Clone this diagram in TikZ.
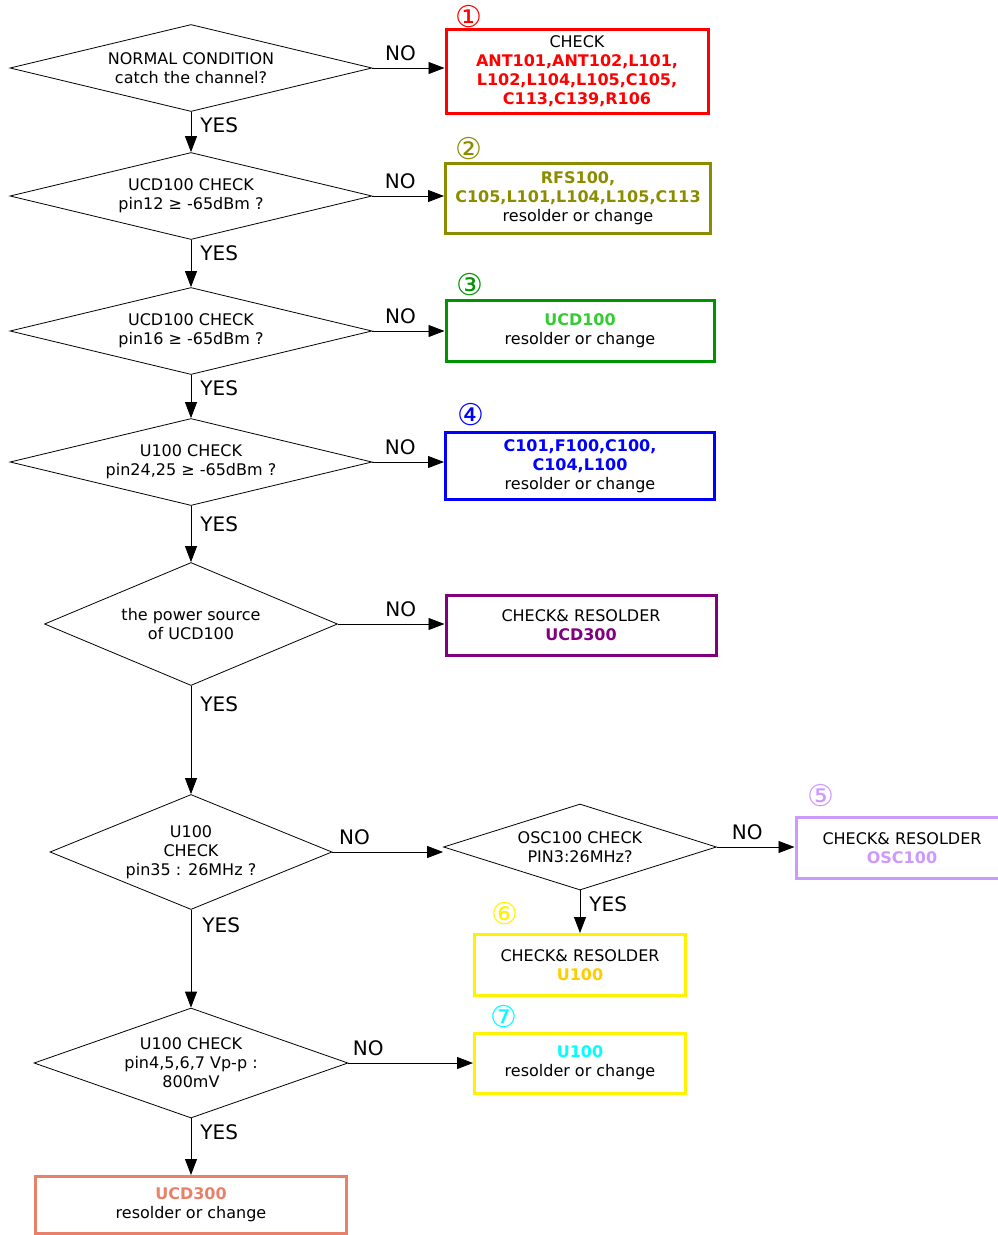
\documentclass[tikz,border=0pt]{standalone}
\usepackage{fontspec}
\setmainfont{DejaVu Sans}
\usepackage{xcolor}
\usetikzlibrary{arrows.meta, positioning, shapes.geometric}

\definecolor{olivepart}{HTML}{8C8C00}
\definecolor{greenbox}{HTML}{009400}
\definecolor{greenpart}{HTML}{33CC33}
\definecolor{purplepart}{HTML}{800080}
\definecolor{lavender}{HTML}{CC99FF}
\definecolor{goldpart}{HTML}{FFCC00}
\definecolor{cyanpart}{HTML}{00FFFF}
\definecolor{salmon}{HTML}{E9806A}

\newcommand{\partlist}[2]{\textcolor{#1}{\bfseries #2}}

\begin{document}
\begin{tikzpicture}[x=1pt, y=-1pt, >={Triangle[length=16pt, width=12pt]},
    decision/.style={diamond, draw, line width=0.8pt, inner sep=0pt, align=center,
        font=\fontsize{16}{19}\selectfont},
    result/.style={rectangle, draw, line width=3pt, align=center,
        font=\fontsize{16}{19}\selectfont},
    branch/.style={font=\fontsize{20}{24}\selectfont, inner sep=2pt},
    circnum/.style={font=\fontsize{30}{32}\selectfont, inner sep=0pt},
    flow/.style={->, line width=0.8pt}]
    \useasboundingbox (0,0) rectangle (997,1235);

    % left column of checks
    \node[decision, minimum width=362pt, minimum height=87pt, shape aspect=4.16] (normal) at (191,68)
        {NORMAL CONDITION\\catch the channel?};
    \node[decision, minimum width=362pt, minimum height=87pt, shape aspect=4.16] (pin12) at (191,196)
        {UCD100 CHECK\\pin12 ≥ -65dBm ?};
    \node[decision, minimum width=362pt, minimum height=87pt, shape aspect=4.16] (pin16) at (191,331)
        {UCD100 CHECK\\pin16 ≥ -65dBm ?};
    \node[decision, minimum width=362pt, minimum height=87pt, shape aspect=4.16] (pin24) at (191,462)
        {U100 CHECK\\pin24,25 ≥ -65dBm ?};
    \node[decision, minimum width=293pt, minimum height=123pt, shape aspect=2.38] (power) at (191,624)
        {the power source\\of UCD100};
    \node[decision, minimum width=282pt, minimum height=115pt, shape aspect=2.45] (pin35) at (191,852)
        {U100\\CHECK\\pin35 : 26MHz ?};
    \node[decision, minimum width=273pt, minimum height=86pt, shape aspect=3.17] (osccheck) at (580,847)
        {OSC100 CHECK\\PIN3:26MHz?};
    \node[decision, minimum width=314pt, minimum height=110pt, shape aspect=2.85] (vpp) at (191,1063)
        {U100 CHECK\\pin4,5,6,7 Vp-p :\\800mV};

    % repair boxes
    \node[result, draw=red, minimum width=262pt, minimum height=84pt] (antfix) at (577,71)
        {CHECK\\\partlist{red}{ANT101,ANT102,L101,}\\\partlist{red}{L102,L104,L105,C105,}\\\partlist{red}{C113,C139,R106}};
    \node[result, draw=olivepart, minimum width=265pt, minimum height=70pt] (rfsfix) at (578,198)
        {\partlist{olivepart}{RFS100,}\\\partlist{olivepart}{C105,L101,L104,L105,C113}\\resolder or change};
    \node[result, draw=greenbox, minimum width=268pt, minimum height=61pt] (ucdfix) at (580,331)
        {\partlist{greenpart}{UCD100}\\resolder or change};
    \node[result, draw=blue, minimum width=269pt, minimum height=67pt] (capfix) at (580,466)
        {\partlist{blue}{C101,F100,C100,}\\\partlist{blue}{C104,L100}\\resolder or change};
    \node[result, draw=purplepart, minimum width=270pt, minimum height=60pt] (ucd3check) at (581,625)
        {CHECK\& RESOLDER\\\partlist{purplepart}{UCD300}};
    \node[result, draw=lavender, minimum width=212pt, minimum height=61pt] (oscfix) at (902,848)
        {CHECK\& RESOLDER\\\partlist{lavender}{OSC100}};
    \node[result, draw=yellow, minimum width=211pt, minimum height=61pt] (u100check) at (580,965)
        {CHECK\& RESOLDER\\\partlist{goldpart}{U100}};
    \node[result, draw=yellow, minimum width=211pt, minimum height=60pt] (u100fix) at (580,1063)
        {\partlist{cyanpart}{U100}\\resolder or change};
    \node[result, draw=salmon, minimum width=311pt, minimum height=57pt] (ucd3fix) at (191,1205)
        {\partlist{salmon}{UCD300}\\resolder or change};

    % step numbers
    \node[circnum, text=red, above right=0pt and 11pt of antfix.north west] (num1) {①};
    \node[circnum, text=olivepart, above right=2pt and 11pt of rfsfix.north west] (num2) {②};
    \node[circnum, text=greenbox, above right=3pt and 12pt of ucdfix.north west] (num3) {③};
    \node[circnum, text=blue, above right=5pt and 13pt of capfix.north west] (num4) {④};
    \node[circnum, text=lavender, above right=9pt and 13pt of oscfix.north west] (num5) {⑤};
    \node[circnum, text=yellow, above right=8pt and 18pt of u100check.north west] (num6) {⑥};
    \node[circnum, text=cyanpart, above right=4pt and 17pt of u100fix.north west] (num7) {⑦};

    % YES branches
    \draw[flow] (normal) -- node[branch, at start, below right=3pt and 7pt] {YES} (pin12);
    \draw[flow] (pin12) -- node[branch, at start, below right=3pt and 7pt] {YES} (pin16);
    \draw[flow] (pin16) -- node[branch, at start, below right=3pt and 7pt] {YES} (pin24);
    \draw[flow] (pin24) -- node[branch, at start, below right=8pt and 7pt] {YES} (power);
    \draw[flow] (power) -- node[branch, at start, below right=8pt and 7pt] {YES} (pin35);
    \draw[flow] (pin35) -- node[branch, at start, below right=5pt and 9pt] {YES} (vpp);
    \draw[flow] (osccheck) -- node[branch, at start, below right=4pt and 7pt] {YES} (u100check);
    \draw[flow] (vpp) -- node[branch, at start, below right=4pt and 7pt] {YES} (ucd3fix);

    % NO branches
    \draw[flow] (normal.east) -- node[branch, pos=0.39, above=5pt] {NO} (normal.east -| antfix.west);
    \draw[flow] (pin12.east) -- node[branch, pos=0.39, above=5pt] {NO} (pin12.east -| rfsfix.west);
    \draw[flow] (pin16.east) -- node[branch, pos=0.39, above=5pt] {NO} (pin16.east -| ucdfix.west);
    \draw[flow] (pin24.east) -- node[branch, pos=0.39, above=5pt] {NO} (pin24.east -| capfix.west);
    \draw[flow] (power.east) -- node[branch, pos=0.59, above=5pt] {NO} (power.east -| ucd3check.west);
    \draw[flow] (pin35.east) -- node[branch, pos=0.2, above=5pt] {NO} (pin35.east -| osccheck.west);
    \draw[flow] (osccheck.east) -- node[branch, pos=0.39, above=5pt] {NO} (osccheck.east -| oscfix.west);
    \draw[flow] (vpp.east) -- node[branch, pos=0.16, above=5pt] {NO} (vpp.east -| u100fix.west);
\end{tikzpicture}
\end{document}
